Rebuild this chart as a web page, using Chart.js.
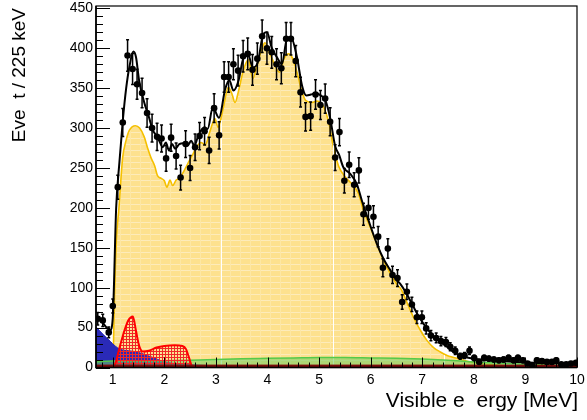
<!DOCTYPE html>
<html>
<head>
<meta charset="utf-8">
<script src="https://cdn.jsdelivr.net/npm/chart.js@4.4.1/dist/chart.umd.min.js"></script>
<style>
    body { margin: 0; background: #fff; }
</style>
</head>
<body>
<canvas id="chartArea" width="587" height="420"></canvas>
<script>
// measured points (visible energy in MeV, counts)
var dataEnergy = [0.709, 0.806, 0.922, 1.0, 1.097, 1.194, 1.287, 1.384, 1.471, 1.568,
    1.665, 1.762, 1.859, 1.946, 2.034, 2.131, 2.228, 2.315, 2.412, 2.499,
    2.596, 2.683, 2.780, 2.868, 2.965, 3.062, 3.159, 3.246, 3.339, 3.430,
    3.527, 3.616, 3.709, 3.803, 3.896, 3.989, 4.082, 4.175, 4.268, 4.361,
    4.454, 4.547, 4.640, 4.737, 4.836, 4.931, 5.026, 5.118, 5.214, 5.311,
    5.395, 5.490, 5.583, 5.680, 5.771, 5.860, 5.957, 6.054, 6.145, 6.237,
    6.333, 6.423, 6.520, 6.611, 6.702, 6.799, 6.896, 6.993, 7.076, 7.168,
    7.270, 7.362, 7.459, 7.542, 7.639, 7.736, 7.819, 7.916, 8.007, 8.104,
    8.201, 8.292, 8.389, 8.486, 8.575, 8.673, 8.770, 8.855, 8.952, 9.041,
    9.138, 9.223, 9.320, 9.417, 9.514, 9.598, 9.695, 9.792, 9.883, 9.980];
var dataCounts = [61, 59, 44, 77, 226, 307, 391, 374, 355, 344,
    319, 300, 289, 287, 262, 288, 265, 238, 280, 250,
    276, 290, 296, 272, 325, 291, 364, 364, 380, 372,
    390, 393, 373, 387, 415, 400, 395, 380, 375, 412,
    412, 384, 345, 314, 315, 342, 329, 337, 308, 263,
    295, 234, 254, 229, 247, 192, 200, 189, 164, 125,
    149, 116, 112, 82, 95, 79, 63, 63, 49, 40,
    37, 33, 32, 26, 21, 14, 15, 21, 12, 7,
    12, 11, 10, 9, 10, 12, 9, 12, 9, 5,
    2, 9, 8, 7, 7, 9, 4, 4, 5, 6];

// total fit (black line)
var fitEnergy = [0.675, 0.78, 0.88, 0.95, 1.0, 1.066, 1.13, 1.194, 1.26, 1.32, 1.40, 1.45, 1.51, 1.61, 1.70,
    1.78, 1.84, 1.90, 1.97, 2.03, 2.09, 2.15, 2.21, 2.29, 2.37, 2.45, 2.52, 2.58, 2.65, 2.71,
    2.78, 2.84, 2.94, 3.06, 3.18, 3.26, 3.34, 3.44, 3.53, 3.63, 3.715, 3.81, 3.92, 3.99, 4.08,
    4.18, 4.28, 4.37, 4.46, 4.57, 4.67, 4.75, 4.84, 4.94, 5.03, 5.12, 5.21, 5.31, 5.39, 5.47,
    5.60, 5.73, 5.83, 5.96, 6.12, 6.25, 6.38, 6.51, 6.57, 6.70, 6.83, 6.96, 7.09, 7.22, 7.35,
    7.48, 7.61, 7.74, 7.87, 8.13, 8.52, 9.16, 10.0];
var fitTotal = [64, 58, 50, 47, 62, 200, 258, 309, 350, 376, 396, 389, 360, 332, 314,
    297, 291, 284, 276, 282, 272, 280, 274, 280, 281, 278, 284, 278, 289, 297,
    301, 299, 326, 313, 349, 360, 347, 360, 387, 391, 376, 382, 418, 420, 401,
    389, 380, 410, 413, 389, 353, 341, 342, 344, 341, 335, 314, 278, 266, 251,
    243, 230, 209, 184, 155, 136, 122, 109, 105, 92, 76, 61, 49, 39, 32,
    26, 19.5, 15, 12.5, 10, 8, 6, 5];

// reactor antineutrinos (yellow)
var reactorEnergy = [0.675, 1.0, 1.03, 1.07, 1.12, 1.19, 1.26, 1.32, 1.44, 1.52, 1.61, 1.68, 1.74, 1.81, 1.87,
    1.94, 2.0, 2.05, 2.11, 2.16, 2.23, 2.29, 2.37, 2.49, 2.56, 2.62, 2.71, 2.79, 2.89, 2.98,
    3.04, 3.10, 3.145, 3.24, 3.31, 3.37, 3.44, 3.53, 3.63, 3.715, 3.80, 3.90, 3.95, 4.05, 4.15,
    4.23, 4.32, 4.41, 4.49, 4.58, 4.67, 4.75, 4.86, 4.96, 5.05, 5.18, 5.28, 5.38, 5.505, 5.635,
    5.763, 5.86, 5.99, 6.12, 6.25, 6.38, 6.51, 6.60, 6.70, 6.83, 6.96, 7.09, 7.22, 7.35, 7.48,
    7.61, 7.70, 7.85, 8.0, 8.3, 8.7, 9.2, 10.0];
var reactorCounts = [0, 0, 80, 160, 200, 262, 285, 297, 303, 300, 289, 274, 263, 253, 240,
    237, 234, 226, 235, 228, 235, 237, 245, 260, 268, 276, 282, 279, 297, 312,
    301, 313, 326, 351, 343, 332, 347, 372, 386, 362, 380, 401, 407, 393, 378,
    370, 387, 393, 387, 368, 345, 334, 332, 334, 331, 309, 276, 252, 239, 230,
    218, 197, 176, 155, 134, 118, 104, 97, 82, 63, 47, 34, 25, 19.5, 15,
    12.5, 11, 8, 6, 4, 2, 1, 0];

// accidentals (blue)
var accEnergy = [0.675, 0.82, 0.95, 1.045, 1.14, 1.30, 1.43, 1.59, 1.78, 1.96, 2.2, 2.5, 2.98, 3.47, 10.0];
var accCounts = [51, 41, 33, 27, 23, 21, 20, 17, 12.5, 8, 5, 3.5, 2, 1, 0];

// 13C(a,n)16O (red)
var alphaNEnergy = [1.0, 1.05, 1.12, 1.21, 1.30, 1.39, 1.45, 1.50, 1.53, 1.58, 1.70, 1.85, 2.0, 2.2, 2.35, 2.42, 2.48, 2.53, 2.56];
var alphaNCounts = [0, 5, 22, 43, 59, 64, 46, 30, 24, 20, 21, 25, 27, 28, 27, 23, 12, 2, 0];

// geo-neutrinos (green)
var geoEnergy = [0.675, 1.0, 1.5, 2.0, 2.5, 3.0, 3.5, 4.0, 4.5, 5.0, 5.5, 6.0, 6.5, 7.0, 7.5, 8.0, 8.5, 9.0, 9.5, 10.0];
var geoCounts = [7, 8, 8, 8.5, 9, 10, 11, 11.5, 12, 12.5, 12.5, 12, 11.5, 10.5, 9, 7, 5.5, 4, 3, 2];

// other background (dark red strip)
var otherEnergy = [0.675, 10.0];
var otherCounts = [3, 3];

var seamEnergy = [3.09, 5.26, 7.43];

function toPoints(xs, ys) {
    return xs.map(function (x, i) { return { x: x, y: ys[i] }; });
}

function interp(xs, ys, x) {
    for (var i = 1; i < xs.length; i++) {
        if (x <= xs[i]) {
            var t = (x - xs[i - 1]) / (xs[i] - xs[i - 1]);
            return ys[i - 1] + t * (ys[i] - ys[i - 1]);
        }
    }
    return ys[ys.length - 1];
}

function makePattern(ctx, w, h, draw) {
    var tile = document.createElement('canvas');
    tile.width = w;
    tile.height = h;
    draw(tile.getContext('2d'));
    return ctx.createPattern(tile, 'repeat');
}

var rootStyle = {
    id: 'rootStyle',
    beforeDatasetDraw: function (chart, args) {
        if (args.index !== 0) return;
        // error bars under the markers
        var ctx = chart.ctx, xs = chart.scales.x, ys = chart.scales.y;
        ctx.save();
        ctx.strokeStyle = '#000';
        ctx.lineWidth = 1.5;
        dataEnergy.forEach(function (e, i) {
            var n = dataCounts[i], err = Math.sqrt(n);
            var px = xs.getPixelForValue(e);
            var top = ys.getPixelForValue(n + err), bot = ys.getPixelForValue(Math.max(n - err, 0));
            ctx.beginPath();
            ctx.moveTo(px, top); ctx.lineTo(px, bot);
            ctx.moveTo(px - 1.5, top); ctx.lineTo(px + 1.5, top);
            ctx.moveTo(px - 1.5, bot); ctx.lineTo(px + 1.5, bot);
            ctx.stroke();
        });
        ctx.restore();
    },
    afterDatasetDraw: function (chart, args) {
        if (args.index !== 6) return;
        // thin white seams in the reactor fill
        var ctx = chart.ctx, xs = chart.scales.x, ys = chart.scales.y;
        ctx.save();
        ctx.strokeStyle = '#ffffff';
        ctx.lineWidth = 1;
        seamEnergy.forEach(function (e) {
            var px = Math.round(xs.getPixelForValue(e)) + 0.5;
            ctx.beginPath();
            ctx.moveTo(px, ys.getPixelForValue(interp(reactorEnergy, reactorCounts, e)) + 1);
            ctx.lineTo(px, ys.getPixelForValue(0));
            ctx.stroke();
        });
        ctx.restore();
    },
    afterDatasetsDraw: function (chart) {
        var ctx = chart.ctx, a = chart.chartArea, xs = chart.scales.x, ys = chart.scales.y;
        ctx.save();
        ctx.strokeStyle = '#000';
        ctx.lineWidth = 1;
        ctx.beginPath();
        var v, p;
        for (v = 0; v <= 450; v += 10) {
            p = Math.round(ys.getPixelForValue(v)) + 0.5;
            ctx.moveTo(a.left, p);
            ctx.lineTo(a.left + (v % 50 === 0 ? 14 : 7), p);
        }
        for (v = 8; v <= 100; v += 2) {
            var e = v / 10;
            p = Math.round(xs.getPixelForValue(e)) + 0.5;
            ctx.moveTo(p, a.bottom);
            ctx.lineTo(p, a.bottom - (v % 10 === 0 ? 10 : 5));
        }
        ctx.stroke();
        ctx.lineWidth = 1.2;
        ctx.strokeRect(a.left, a.top, a.right - a.left, a.bottom - a.top);
        ctx.lineWidth = 1.6;
        ctx.beginPath();
        ctx.moveTo(a.left, a.top); ctx.lineTo(a.left, a.bottom); ctx.lineTo(a.right, a.bottom);
        ctx.stroke();
        ctx.restore();
    },
    afterDraw: function (chart) {
        var ctx = chart.ctx, a = chart.chartArea;
        ctx.save();
        ctx.fillStyle = '#000';
        ctx.font = '21px "Liberation Sans", Arial, sans-serif';
        ctx.textAlign = 'right';
        ctx.textBaseline = 'alphabetic';
        ctx.fillText('Visible e  ergy [MeV]', a.right + 1, 407);
        ctx.translate(25, a.top + 2);
        ctx.rotate(-Math.PI / 2);
        ctx.font = '19px "Liberation Sans", Arial, sans-serif';
        ctx.fillText('Eve  t / 225 keV', 0, 0);
        ctx.restore();
    }
};

function drawChart() {
    var canvas = document.getElementById('chartArea');
    var ctx = canvas.getContext('2d');

    var yellowFill = makePattern(ctx, 10, 6, function (g) {
        g.fillStyle = '#fde18e';
        g.fillRect(0, 0, 10, 6);
        g.fillStyle = '#fdebba';
        g.fillRect(0, 0, 10, 1);
        g.fillStyle = '#fde7a4';
        g.fillRect(0, 0, 1, 6);
    });
    var redFill = makePattern(ctx, 3, 3, function (g) {
        g.fillStyle = '#f02828';
        g.fillRect(0, 0, 3, 1);
        g.fillRect(0, 0, 1, 3);
    });

    var tickFont = { family: '"Liberation Sans", Arial, sans-serif', size: 14 };

    new Chart(ctx, {
        type: 'line',
        data: {
            datasets: [{
                label: 'Data',
                data: toPoints(dataEnergy, dataCounts),
                showLine: false,
                pointRadius: 3.3,
                pointBackgroundColor: '#000',
                pointBorderWidth: 0,
                order: 0
            }, {
                label: 'Total',
                data: toPoints(fitEnergy, fitTotal),
                borderColor: '#000',
                borderWidth: 2,
                pointRadius: 0,
                cubicInterpolationMode: 'monotone',
                order: 1
            }, {
                label: 'Other',
                data: toPoints(otherEnergy, otherCounts),
                borderColor: '#7a0c0c',
                backgroundColor: '#7a0c0c',
                borderWidth: 1,
                pointRadius: 0,
                fill: 'origin',
                order: 2
            }, {
                label: '13C(a,n)',
                data: toPoints(alphaNEnergy, alphaNCounts),
                borderColor: '#ff0000',
                backgroundColor: redFill,
                borderWidth: 2,
                pointRadius: 0,
                cubicInterpolationMode: 'monotone',
                fill: 'origin',
                order: 3
            }, {
                label: 'Geo',
                data: toPoints(geoEnergy, geoCounts),
                borderColor: '#55c94a',
                backgroundColor: 'rgba(105, 205, 95, 0.55)',
                borderWidth: 1.5,
                pointRadius: 0,
                cubicInterpolationMode: 'monotone',
                fill: 'origin',
                order: 4
            }, {
                label: 'Accidentals',
                data: toPoints(accEnergy, accCounts),
                borderColor: '#2a2ab8',
                backgroundColor: '#2a2ab8',
                borderWidth: 1,
                pointRadius: 0,
                cubicInterpolationMode: 'monotone',
                fill: 'origin',
                order: 5
            }, {
                label: 'Reactor',
                data: toPoints(reactorEnergy, reactorCounts),
                borderColor: '#f5c000',
                backgroundColor: yellowFill,
                borderWidth: 1.6,
                pointRadius: 0,
                cubicInterpolationMode: 'monotone',
                fill: 'origin',
                order: 6
            }]
        },
        options: {
            responsive: false,
            animation: false,
            devicePixelRatio: 1,
            layout: { padding: { top: 6, right: 10, left: 0, bottom: 0 } },
            plugins: { legend: { display: false }, tooltip: { enabled: false } },
            scales: {
                x: {
                    type: 'linear',
                    min: 0.675,
                    max: 10,
                    grid: { display: false, drawTicks: false },
                    border: { display: false },
                    ticks: {
                        stepSize: 1,
                        includeBounds: false,
                        autoSkip: false,
                        maxRotation: 0,
                        padding: 4,
                        color: '#000',
                        font: tickFont
                    },
                    afterFit: function (scale) {
                        scale.height = 52.5;
                        scale.paddingLeft = 0;
                        scale.paddingRight = 0;
                    }
                },
                y: {
                    min: 0,
                    max: 453,
                    grid: { display: false, drawTicks: false },
                    border: { display: false },
                    ticks: {
                        stepSize: 50,
                        includeBounds: false,
                        padding: 3,
                        color: '#000',
                        font: tickFont
                    },
                    afterFit: function (scale) {
                        scale.width = 96;
                        scale.paddingTop = 0;
                        scale.paddingBottom = 0;
                    }
                }
            }
        },
        plugins: [rootStyle]
    });
}

document.addEventListener('DOMContentLoaded', drawChart);
</script>
</body>
</html>
